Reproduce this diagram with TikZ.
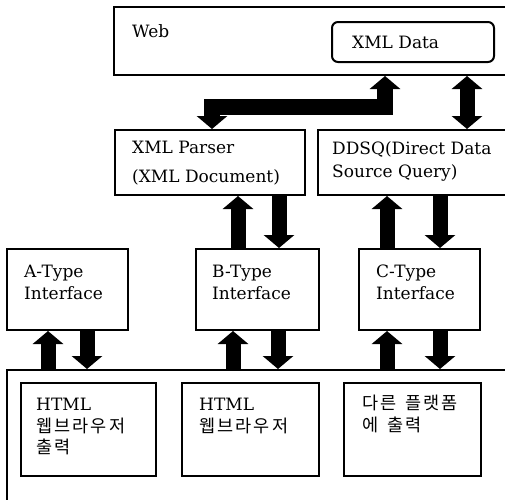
\documentclass[tikz,border=0pt]{standalone}
\usepackage{fontspec}
\setmainfont{DejaVu Serif}
\newfontfamily\krfont[LetterSpace=12]{Noto Sans CJK KR}
\usetikzlibrary{arrows.meta}

\newcommand{\kr}[1]{{\krfont\fontsize{17.5}{21.5}\selectfont #1}}

\tikzset{
  box/.style={draw, line width=2pt, inner sep=0pt},
  lbl/.style={anchor=north west, align=left, inner sep=0pt,
    font=\fontsize{17}{21.5}\selectfont},
  fat/.style={line width=15pt},
  >={Triangle[length=13pt,width=30pt]}
}

\begin{document}
\begin{tikzpicture}[x=1pt,y=-1pt]
        \useasboundingbox (0,0) rectangle (505,499);
        \clip (0,0) rectangle (505,499);

        % top
        \node[box, minimum width=406pt, minimum height=68pt,
          label={[lbl, xshift=19pt, yshift=-18pt]north west:Web}] (web) at (317,41) {};
        \node[box, rounded corners=6pt, minimum width=162pt, minimum height=40pt,
          label={[lbl, anchor=west, xshift=21pt]west:XML Data}] (xmldata) at (413,42) {};

        % middle
        \node[box, minimum width=190pt, minimum height=65pt,
          label={[lbl, xshift=18pt, yshift=-12pt]north west:XML Parser\\[7pt](XML Document)}] (parser) at (210,162.5) {};
        \node[box, minimum width=202pt, minimum height=65pt,
          label={[lbl, xshift=15pt, yshift=-12pt]north west:DDSQ(Direct Data\\[2pt]Source Query)}] (ddsq) at (419,162.5) {};

        \node[box, minimum width=121pt, minimum height=81pt,
          label={[lbl, xshift=18pt, yshift=-17pt]north west:A-Type\\Interface}] (ta) at (67.5,289.5) {};
        \node[box, minimum width=123pt, minimum height=81pt,
          label={[lbl, xshift=17pt, yshift=-17pt]north west:B-Type\\Interface}] (tb) at (257.5,289.5) {};
        \node[box, minimum width=121pt, minimum height=81pt,
          label={[lbl, xshift=18pt, yshift=-17pt]north west:C-Type\\Interface}] (tc) at (419.5,289.5) {};

        % bottom
        \node[box, minimum width=513pt, minimum height=150pt] (screen) at (263.5,445) {};
        \node[box, minimum width=135pt, minimum height=93pt,
          label={[lbl, xshift=16pt, yshift=-16pt]north west:HTML\\\kr{웹브라우저}\\\kr{출력}}] (h1) at (88.5,429.5) {};
        \node[box, minimum width=137pt, minimum height=93pt,
          label={[lbl, xshift=18pt, yshift=-16pt]north west:HTML\\\kr{웹브라우저}}] (h2) at (250.5,429.5) {};
        \node[box, minimum width=137pt, minimum height=93pt,
          label={[lbl, xshift=19pt, yshift=-13pt]north west:\kr{다른\hspace{9pt}플랫폼}\\\kr{에\hspace{9pt}출력}}] (h3) at (412.5,429.5) {};

        % arrows
        \draw[fat, line width=16pt, <->] (parser.north -| 212,0) -- (212,107) -- (385,107) -- (web.south -| 385,0);
        \draw[fat, <->] (web.south -| 467,0) -- (ddsq.north -| 467,0);

        \draw[fat, ->] (tb.north -| 238,0) -- (parser.south -| 238,0);
        \draw[fat, ->] (parser.south -| 279,0) -- (tb.north -| 279,0);
        \draw[fat, ->] (tc.north -| 387,0) -- (ddsq.south -| 387,0);
        \draw[fat, ->] (ddsq.south -| 440,0) -- (tc.north -| 440,0);

        \draw[fat, ->] (screen.north -| 48,0) -- (ta.south -| 48,0);
        \draw[fat, ->] (ta.south -| 87,0) -- (screen.north -| 87,0);
        \draw[fat, ->] (screen.north -| 233,0) -- (tb.south -| 233,0);
        \draw[fat, ->] (tb.south -| 278,0) -- (screen.north -| 278,0);
        \draw[fat, ->] (screen.north -| 387,0) -- (tc.south -| 387,0);
        \draw[fat, ->] (tc.south -| 440,0) -- (screen.north -| 440,0);
\end{tikzpicture}
\end{document}
